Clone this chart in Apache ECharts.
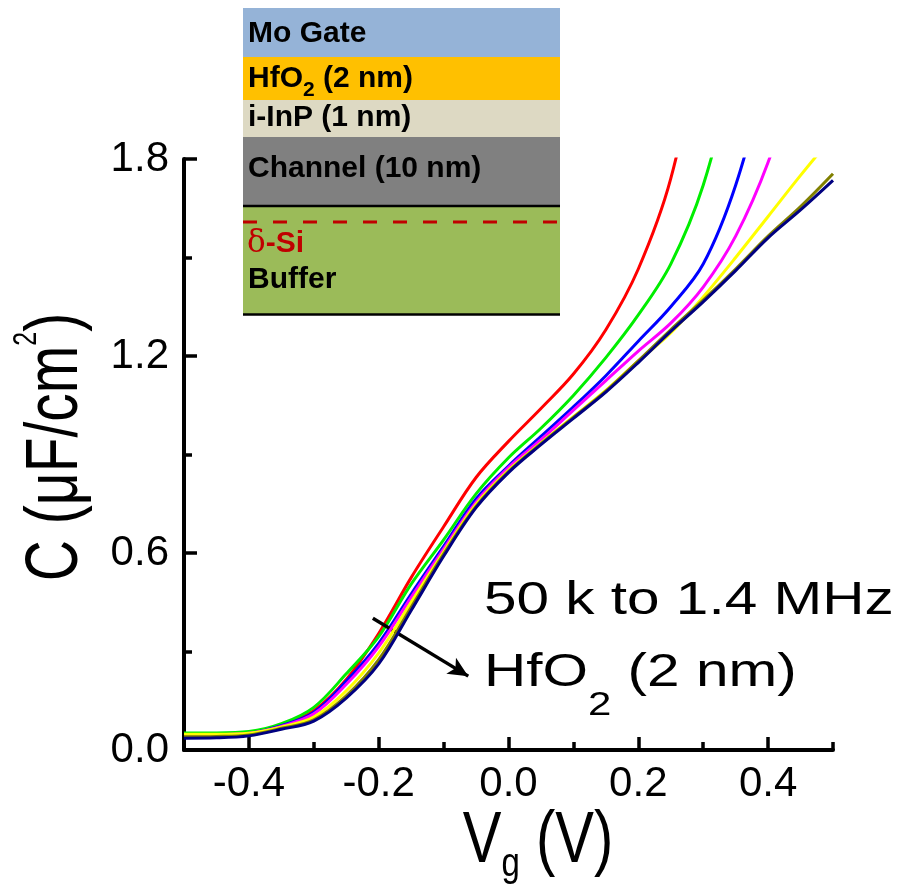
<!DOCTYPE html>
<html>
<head>
<meta charset="utf-8">
<script src="https://cdn.jsdelivr.net/npm/echarts@6/dist/echarts.min.js"></script>
<style>
  html, body { margin: 0; padding: 0; background: #fff; }
  #chart { width: 901px; height: 889px; }
</style>
</head>
<body>
<div id="chart"></div>
<script>
// Gate voltage sweep (V)
const vg = [-0.5, -0.45, -0.4, -0.35, -0.3, -0.25, -0.2, -0.15, -0.1, -0.05, 0,
            0.05, 0.1, 0.15, 0.2, 0.25, 0.3, 0.35, 0.4, 0.45, 0.5];

// Capacitance (uF/cm^2), one curve per measurement frequency, 50 kHz ... 1.4 MHz
const capF1 = [0.048, 0.048, 0.052, 0.075, 0.12, 0.215, 0.355, 0.525, 0.68, 0.83, 0.94,
               1.04, 1.145, 1.28, 1.465, 1.74, 2.2, null, null, null, null];
const capF2 = [0.052, 0.052, 0.056, 0.08, 0.13, 0.232, 0.345, 0.505, 0.64, 0.78, 0.89,
               0.98, 1.08, 1.195, 1.325, 1.48, 1.72, 2.1, null, null, null];
const capF3 = [0.042, 0.043, 0.05, 0.074, 0.115, 0.21, 0.325, 0.475, 0.62, 0.765, 0.865,
               0.955, 1.045, 1.14, 1.245, 1.35, 1.48, 1.72, 2.08, null, null];
const capF4 = [0.046, 0.047, 0.051, 0.072, 0.11, 0.2, 0.315, 0.465, 0.612, 0.755, 0.86,
               0.945, 1.035, 1.125, 1.215, 1.3, 1.41, 1.565, 1.79, 2.1, null];
const capF5 = [0.048, 0.048, 0.051, 0.07, 0.1, 0.18, 0.295, 0.45, 0.603, 0.748, 0.852,
               0.935, 1.015, 1.095, 1.185, 1.27, 1.38, 1.5, 1.625, 1.75, 1.87];
const capF6 = [0.04, 0.041, 0.046, 0.066, 0.092, 0.165, 0.275, 0.435, 0.597, 0.742, 0.848,
               0.933, 1.013, 1.093, 1.185, 1.28, 1.37, 1.465, 1.565, 1.655, 1.755];
const capF7 = [0.036, 0.037, 0.043, 0.063, 0.088, 0.158, 0.262, 0.425, 0.59, 0.738, 0.845,
               0.93, 1.01, 1.09, 1.18, 1.275, 1.365, 1.46, 1.56, 1.645, 1.735];

const curveNames  = ['f1', 'f2', 'f3', 'f4', 'f5', 'f6', 'f7'];
const curveValues = [capF1, capF2, capF3, capF4, capF5, capF6, capF7];
const curveColors = ['#ff0000', '#00ee00', '#0000ff', '#ff00ff', '#ffff00', '#808000', '#000080'];

// Axis ticks
const xMajorTicks = [-0.4, -0.2, 0, 0.2, 0.4];
const xMinorTicks = [-0.5, -0.3, -0.1, 0.1, 0.3, 0.5];

// Frequency arrow (data coordinates: V, C)
const arrowFrom = [-0.209, 0.401];
const arrowTo = [-0.062, 0.225];

const chart = echarts.init(document.getElementById('chart'), null, { renderer: 'canvas' });

const sansFont = '"Liberation Sans", Arial, sans-serif';
const boldFont = 'bold 30px "Liberation Sans", Arial, sans-serif';

function pairs(values) {
  const out = [];
  values.forEach((c, i) => { if (c !== null) out.push([vg[i], c]); });
  return out;
}

const series = curveValues.map((vals, i) => ({
  name: curveNames[i],
  type: 'line',
  data: pairs(vals),
  showSymbol: false,
  smooth: 0.35,
  clip: true,
  lineStyle: { color: curveColors[i], width: 3 },
  itemStyle: { color: curveColors[i] },
  z: 2 + i
}));

// arrow across the curves, pointing towards higher frequency
series[series.length - 1].markLine = {
  silent: true,
  symbol: ['none', 'arrow'],
  symbolSize: [14, 20],
  label: { show: false },
  lineStyle: { color: '#000', width: 3.5, type: 'solid' },
  data: [[{ coord: arrowFrom }, { coord: arrowTo }]]
};

// layer stack drawn as an inset at the top left
const inset = {
  type: 'group',
  z: 100,
  children: [
    { type: 'rect', shape: { x: 243, y: 8, width: 317, height: 50 }, style: { fill: '#95b3d7' } },
    { type: 'rect', shape: { x: 243, y: 57, width: 317, height: 43 }, style: { fill: '#ffc000' } },
    { type: 'rect', shape: { x: 243, y: 100, width: 317, height: 37 }, style: { fill: '#ddd9c3' } },
    { type: 'rect', shape: { x: 243, y: 137, width: 317, height: 69 }, style: { fill: '#808080' } },
    { type: 'rect', shape: { x: 243, y: 206, width: 317, height: 109 }, style: { fill: '#9bbb59' } },
    { type: 'line', shape: { x1: 243, y1: 206, x2: 560, y2: 206 }, style: { stroke: '#000', lineWidth: 2.5 } },
    { type: 'line', shape: { x1: 243, y1: 314.5, x2: 560, y2: 314.5 }, style: { stroke: '#000', lineWidth: 2.5 } },
    { type: 'line', shape: { x1: 243, y1: 222, x2: 560, y2: 222 },
      style: { stroke: '#c00000', lineWidth: 3, lineDash: [14, 16] } },
    { type: 'text', x: 248, y: 34, style: { text: 'Mo Gate', font: boldFont, fill: '#000', verticalAlign: 'middle' } },
    { type: 'text', x: 248, y: 82,
      style: {
        text: '{m|HfO}{s|2}{m| (2 nm)}', fill: '#000', verticalAlign: 'middle',
        rich: {
          m: { font: boldFont, fill: '#000', verticalAlign: 'bottom', padding: [0, 0, 7, 0] },
          s: { font: 'bold 21px "Liberation Sans", Arial, sans-serif', fill: '#000', verticalAlign: 'bottom' }
        }
      } },
    { type: 'text', x: 248, y: 118, style: { text: 'i-InP (1 nm)', font: boldFont, fill: '#000', verticalAlign: 'middle' } },
    { type: 'text', x: 248, y: 169, style: { text: 'Channel (10 nm)', font: boldFont, fill: '#000', verticalAlign: 'middle' } },
    { type: 'text', x: 247, y: 244,
      style: {
        text: '{d|\u03b4}{b|-Si}', fill: '#c00000', verticalAlign: 'middle',
        rich: {
          d: { font: '31px "DejaVu Serif", "Liberation Serif", serif', fill: '#c00000' },
          b: { font: boldFont, fill: '#c00000' }
        }
      } },
    { type: 'text', x: 248, y: 280, style: { text: 'Buffer', font: boldFont, fill: '#000', verticalAlign: 'middle' } }
  ]
};

const annotations = [
  inset,
  // y-axis title
  { type: 'text', x: 52, y: 447, rotation: Math.PI / 2, scaleY: 1.3, z: 50,
    style: {
      text: '{m|C (\u03bcF/cm}{p|2}{m|)}', align: 'center', verticalAlign: 'middle', fill: '#000',
      rich: {
        m: { fontSize: 57, fontFamily: sansFont, fill: '#000', verticalAlign: 'bottom' },
        p: { fontSize: 25, fontFamily: sansFont, fill: '#000', verticalAlign: 'bottom', padding: [0, 0, 39, 0] }
      }
    } },
  // x-axis title
  { type: 'text', x: 538, y: 846, scaleY: 1.23, z: 50,
    style: {
      text: '{m|V}{s|g}{m| (V)}', align: 'center', verticalAlign: 'middle', fill: '#000',
      rich: {
        m: { fontSize: 58, fontFamily: sansFont, fill: '#000', verticalAlign: 'bottom', padding: [0, 0, 6, 0] },
        s: { fontSize: 33, fontFamily: sansFont, fill: '#000', verticalAlign: 'bottom' }
      }
    } },
  // frequency range note
  { type: 'text', x: 484, y: 601, scaleY: 0.79, z: 50,
    style: { text: '50 k to 1.4 MHz', fontSize: 58.5, fontFamily: sansFont, fill: '#000', verticalAlign: 'middle' } },
  { type: 'text', x: 484, y: 686, scaleY: 0.79, z: 50,
    style: {
      text: '{m|HfO}{s|2}{m| (2 nm)}', verticalAlign: 'middle', fill: '#000',
      rich: {
        m: { fontSize: 58.5, fontFamily: sansFont, fill: '#000', verticalAlign: 'bottom', padding: [0, 0, 32, 0] },
        s: { fontSize: 42, fontFamily: sansFont, fill: '#000', verticalAlign: 'bottom' }
      }
    } }
];

const axisLineStyle = { color: '#000', width: 4 };

chart.setOption({
  animation: false,
  backgroundColor: '#fff',
  grid: { left: 184, right: 68, top: 159, bottom: 139, containLabel: false },
  xAxis: [
    {
      type: 'value', min: -0.5, max: 0.5, position: 'bottom',
      axisLine: { show: true, onZero: false, lineStyle: axisLineStyle },
      axisTick: { show: true, inside: true, length: 13, customValues: xMajorTicks, lineStyle: { color: '#000', width: 3.5 } },
      axisLabel: {
        show: true, customValues: xMajorTicks, margin: 13,
        fontSize: 42, fontFamily: sansFont, color: '#000',
        formatter: v => v.toFixed(1)
      },
      splitLine: { show: false }
    },
    {
      type: 'value', min: -0.5, max: 0.5, position: 'bottom', offset: 0,
      axisLine: { show: false },
      axisTick: { show: true, inside: true, length: 8, customValues: xMinorTicks, lineStyle: { color: '#000', width: 3.5 } },
      axisLabel: { show: false },
      splitLine: { show: false }
    }
  ],
  yAxis: {
    type: 'value', min: 0, max: 1.8, interval: 0.6,
    axisLine: { show: true, onZero: false, lineStyle: axisLineStyle },
    axisTick: { show: true, inside: true, length: 13, lineStyle: { color: '#000', width: 3.5 } },
    minorTick: { show: true, splitNumber: 2, length: 8, lineStyle: { color: '#000', width: 3.5 } },
    axisLabel: {
      show: true, margin: 15, fontSize: 42, fontFamily: sansFont, color: '#000',
      formatter: v => v.toFixed(1)
    },
    splitLine: { show: false },
    minorSplitLine: { show: false }
  },
  series: series,
  graphic: annotations
});
</script>
</body>
</html>
